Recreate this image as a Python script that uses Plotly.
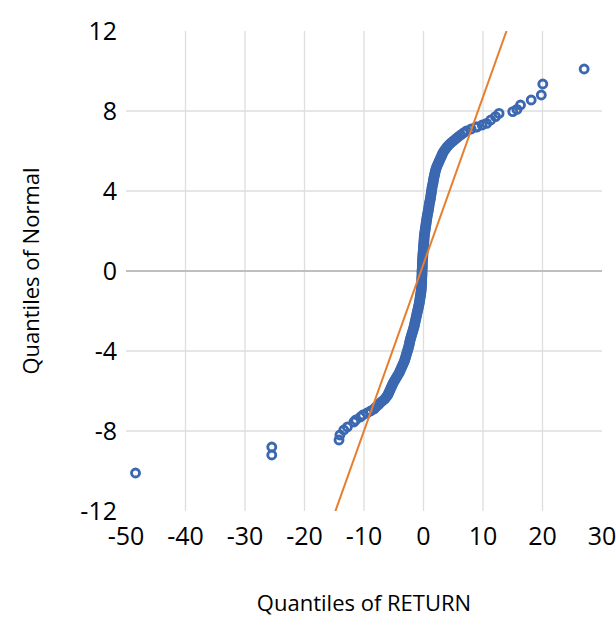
import plotly.graph_objects as go

# ---- data ----
# sparse lower tail
low_x = [-48.4, -25.5, -25.5, -14.2, -14.05, -13.4, -12.8, -11.7, -11.4, -10.6]
low_y = [-10.1, -9.2, -8.8, -8.45, -8.2, -7.95, -7.8, -7.55, -7.45, -7.3]

# dense central band (normal quantile vs return quantile)
band_y = [
    -7.2, -7.1, -7.0, -6.9, -6.8, -6.7, -6.6, -6.5, -6.4, -6.3,
    -6.2, -6.1, -6.0, -5.9, -5.8, -5.7, -5.6, -5.5, -5.4, -5.3,
    -5.2, -5.1, -5.0, -4.9, -4.8, -4.7, -4.6, -4.5, -4.4, -4.3,
    -4.2, -4.1, -4.0, -3.9, -3.8, -3.7, -3.6, -3.5, -3.4, -3.3,
    -3.2, -3.1, -3.0, -2.9, -2.8, -2.7, -2.6, -2.5, -2.4, -2.3,
    -2.2, -2.1, -2.0, -1.9, -1.8, -1.7, -1.6, -1.5, -1.4, -1.3,
    -1.2, -1.1, -1.0, -0.9, -0.8, -0.7, -0.6, -0.5, -0.4, -0.3,
    -0.2, -0.1, 0.0, 0.1, 0.2, 0.3, 0.4, 0.5, 0.6, 0.7,
    0.8, 0.9, 1.0, 1.1, 1.2, 1.3, 1.4, 1.5, 1.6, 1.7,
    1.8, 1.9, 2.0, 2.1, 2.2, 2.3, 2.4, 2.5, 2.6, 2.7,
    2.8, 2.9, 3.0, 3.1, 3.2, 3.3, 3.4, 3.5, 3.6, 3.7,
    3.8, 3.9, 4.0, 4.1, 4.2, 4.3, 4.4, 4.5, 4.6, 4.7,
    4.8, 4.9, 5.0, 5.1, 5.2, 5.3, 5.4, 5.5, 5.6, 5.7,
    5.8, 5.9, 6.0, 6.1, 6.2, 6.3, 6.4, 6.5, 6.6, 6.7,
    6.8, 6.9, 7.0, 7.1, 7.2,
]
band_x = [
    -10.2, -9.5, -8.9, -8.3, -8.0, -7.6, -7.3, -6.9, -6.5, -6.25,
    -6.0, -5.85, -5.7, -5.55, -5.4, -5.25, -5.1, -4.9, -4.7, -4.5,
    -4.3, -4.1, -3.95, -3.8, -3.65, -3.5, -3.35, -3.2, -3.1, -3.0,
    -2.9, -2.8, -2.7, -2.6, -2.5, -2.42, -2.35, -2.28, -2.2, -2.1,
    -2.0, -1.9, -1.8, -1.7, -1.6, -1.52, -1.45, -1.38, -1.3, -1.22,
    -1.15, -1.08, -1.0, -0.92, -0.85, -0.78, -0.7, -0.65, -0.6, -0.55,
    -0.5, -0.45, -0.4, -0.38, -0.35, -0.33, -0.3, -0.3, -0.3, -0.28,
    -0.25, -0.25, -0.25, -0.22, -0.2, -0.2, -0.2, -0.18, -0.15, -0.12,
    -0.1, -0.08, -0.05, -0.02, 0.0, 0.02, 0.05, 0.08, 0.1, 0.12,
    0.15, 0.2, 0.25, 0.3, 0.35, 0.4, 0.45, 0.5, 0.55, 0.6,
    0.65, 0.72, 0.8, 0.85, 0.9, 0.95, 1.0, 1.08, 1.15, 1.2,
    1.25, 1.3, 1.35, 1.4, 1.45, 1.52, 1.6, 1.65, 1.7, 1.78,
    1.85, 1.92, 2.0, 2.1, 2.2, 2.35, 2.5, 2.65, 2.8, 2.95,
    3.1, 3.25, 3.45, 3.7, 3.95, 4.25, 4.6, 5.0, 5.4, 5.8,
    6.25, 6.7, 7.2, 8.0, 8.8,
]

# sparse upper tail
high_x = [9.0, 9.86, 10.6, 11.3, 12.1, 12.7, 15.0, 15.7, 16.3, 18.1, 19.8, 20.05, 27.0]
high_y = [7.2, 7.3, 7.38, 7.55, 7.72, 7.88, 7.97, 8.08, 8.3, 8.55, 8.8, 9.35, 10.1]

# linear trend line end points
trend_x = [-14.8, 13.95]
trend_y = [-12.0, 12.0]

x_ticks = [-50, -40, -30, -20, -10, 0, 10, 20, 30]
x_tick_text = ["-50", "-40", "-30", "-20", "-10", "0", "10", "20", "30"]
y_ticks = [-12, -8, -4, 0, 4, 8, 12]
y_tick_text = ["-12", "-8", "-4", "0", "4", "8", "12"]

# ---- styles ----
BLUE = "#3b68b0"
ORANGE = "#e67e2e"
GRID = "#dedede"
ZERO = "#bfbfbf"
FONT = "Open Sans"

all_x = low_x + band_x + high_x
all_y = low_y + band_y + high_y

fig = go.Figure()
fig.add_trace(go.Scatter(
    x=all_x, y=all_y, mode="markers",
    marker=dict(symbol="circle-open", size=8, color=BLUE,
                line=dict(width=2.9, color=BLUE)),
    showlegend=False, cliponaxis=False,
))
fig.add_trace(go.Scatter(
    x=trend_x, y=trend_y, mode="lines",
    line=dict(color=ORANGE, width=2), showlegend=False,
))

shapes = []
for v in x_ticks[1:-1]:
    shapes.append(dict(type="line", xref="x", yref="y", x0=v, x1=v,
                       y0=y_ticks[0], y1=y_ticks[-1],
                       line=dict(color=GRID, width=1.3), layer="below"))
for v in y_ticks[1:-1]:
    if v == 0:
        continue
    shapes.append(dict(type="line", xref="x", yref="y", y0=v, y1=v,
                       x0=x_ticks[0], x1=x_ticks[-1],
                       line=dict(color=GRID, width=1.3), layer="below"))
shapes.append(dict(type="line", xref="x", yref="y", y0=0, y1=0,
                   x0=x_ticks[0], x1=x_ticks[-1],
                   line=dict(color=ZERO, width=1.8), layer="below"))

fig.update_layout(
    width=616, height=617,
    margin=dict(l=126, r=14, t=31, b=106),
    plot_bgcolor="white", paper_bgcolor="white",
    font=dict(family=FONT, color="#000000"),
    shapes=shapes,
    xaxis=dict(range=[x_ticks[0], x_ticks[-1]], tickvals=x_ticks,
               ticktext=x_tick_text, automargin=False,
               showgrid=False, zeroline=False, showline=False,
               ticks="", tickfont=dict(size=25, family=FONT),
               ticklabelstandoff=8, ticklabeloverflow="allow",
               title=dict(text="Quantiles of RETURN",
                          font=dict(size=22, family=FONT), standoff=46)),
    yaxis=dict(range=[y_ticks[0], y_ticks[-1]], tickvals=y_ticks,
               ticktext=y_tick_text, automargin=False,
               showgrid=False, zeroline=False, showline=False,
               ticks="", tickfont=dict(size=25, family=FONT),
               ticklabelstandoff=8, ticklabeloverflow="allow",
               title=dict(text="Quantiles of Normal",
                          font=dict(size=22, family=FONT), standoff=34)),
)

fig.write_html("out.html")
